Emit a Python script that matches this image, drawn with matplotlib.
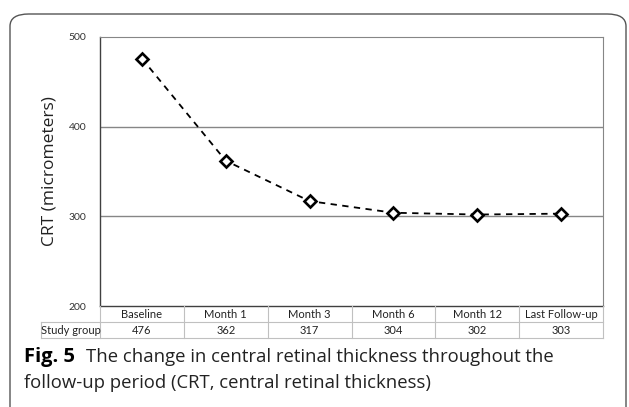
import matplotlib
matplotlib.use("Agg")
import matplotlib.pyplot as plt
import matplotlib.transforms as mtransforms
from matplotlib.lines import Line2D
from matplotlib.patches import FancyBboxPatch

categories = ["Baseline", "Month 1", "Month 3", "Month 6", "Month 12", "Last Follow-up"]
crt_values = [476, 362, 317, 304, 302, 303]
series_name = "Study group"
y_ticks = [200, 300, 400, 500]

W, H = 629, 407
fig = plt.figure(figsize=(W / 100, H / 100), dpi=100)


def px(x, y):
    # pixel (top-left origin) -> figure fraction
    return x / W, 1 - y / H


# rounded frame around the figure
frame = FancyBboxPatch(px(10, 430), (626 - 10) / W, (430 - 14) / H,
                       boxstyle="round,pad=0,rounding_size=0.03",
                       transform=fig.transFigure, fill=False,
                       edgecolor="#555555", linewidth=1.0)
fig.add_artist(frame)

left, top = px(100, 37)
right, bottom = px(603, 306)
ax = fig.add_axes([left, bottom, right - left, top - bottom])

x = list(range(len(categories)))
ax.plot(x, crt_values, color="black", linestyle=(0, (3.5, 3)), linewidth=1.3,
        marker="D", markersize=6.5, markerfacecolor="white",
        markeredgecolor="black", markeredgewidth=1.9)

ax.set_xlim(-0.5, len(categories) - 0.5)
ax.set_ylim(200, 500)
ax.set_yticks(y_ticks)
ax.set_yticklabels([str(t) for t in y_ticks], fontsize=7.5, family="Lato",
                   color="#333333")
ax.set_xticks([])
ax.tick_params(axis="y", length=0, pad=10)
for t in y_ticks[1:-1]:
    ax.axhline(t, color="#868686", linewidth=1.0, zorder=0)
for s in ["top", "right"]:
    ax.spines[s].set_color("#868686")
for s in ["left", "bottom"]:
    ax.spines[s].set_color("#404040")
    ax.spines[s].set_linewidth(1.0)
ax.set_ylabel("CRT (micrometers)", fontsize=12.5, family="Open Sans",
              color="#222222")
ax.yaxis.set_label_coords(-0.085, 0.5)

# data table below the axis
grid_c = "#c0c0c0"
row1 = 322
row2 = 338
col_w = (603 - 100) / len(categories)
fig.add_artist(Line2D([px(41, 0)[0], px(603, 0)[0]], [px(0, row1)[1]] * 2,
                      color=grid_c, linewidth=0.8))
fig.add_artist(Line2D([px(41, 0)[0], px(603, 0)[0]], [px(0, row2)[1]] * 2,
                      color=grid_c, linewidth=0.8))
fig.add_artist(Line2D([px(41, 0)[0]] * 2, [px(0, row1)[1], px(0, row2)[1]],
                      color=grid_c, linewidth=0.8))
for i in range(len(categories) + 1):
    xx = px(100 + i * col_w, 0)[0]
    fig.add_artist(Line2D([xx, xx], [px(0, 306)[1], px(0, row2)[1]],
                          color=grid_c, linewidth=0.8))

trans = mtransforms.blended_transform_factory(ax.transData, fig.transFigure)
for i, (c, v) in enumerate(zip(categories, crt_values)):
    ax.text(i, px(0, 314)[1], c, transform=trans, ha="center", va="center",
            fontsize=8, family="Lato", color="#222222", clip_on=False)
    ax.text(i, px(0, 330)[1], str(v), transform=trans, ha="center",
            va="center", fontsize=8, family="Lato", color="#222222",
            clip_on=False)
fig.text(px(70.5, 0)[0], px(0, 330)[1], series_name, ha="center",
         va="center", fontsize=8, family="Lato", color="#222222")

# caption
cx, cy = px(24, 357)
fig.text(cx, cy, "Fig. 5", fontsize=14.5, fontweight="bold",
         family="Open Sans", va="center")
fig.text(px(86, 0)[0], cy,
         "The change in central retinal thickness throughout the",
         fontsize=13.3, family="Open Sans", va="center", color="#222222")
fig.text(cx, px(0, 383)[1],
         "follow-up period (CRT, central retinal thickness)",
         fontsize=13.3, family="Open Sans", va="center", color="#222222")

fig.savefig("out.png", dpi=100)
